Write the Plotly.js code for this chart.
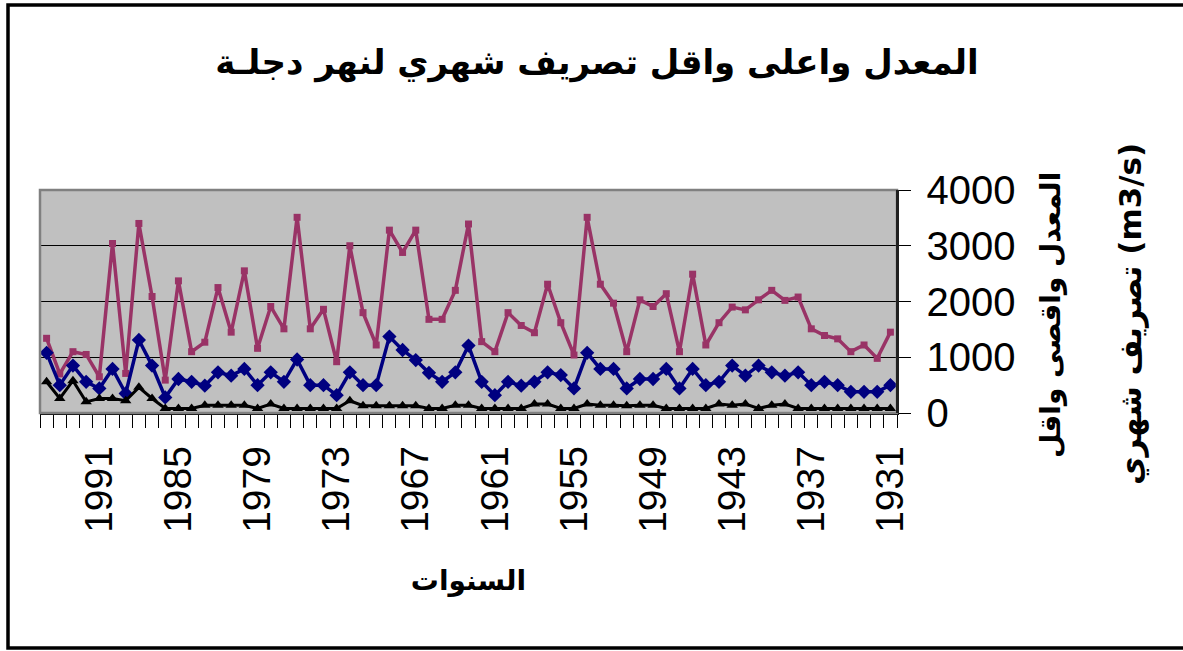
<!DOCTYPE html>
<html>
<head>
<meta charset="utf-8">
<script src="https://cdn.plot.ly/plotly-3.0.1.min.js"></script>
<style>
html,body{margin:0;padding:0;background:#fff;}
#chart{width:1183px;height:651px;}
</style>
</head>
<body>
<div id="chart"></div>
<script>
// Years (category order as in the source chart: newest on the left)
const years = [1995,1994,1993,1992,1991,1990,1989,1988,1987,1986,1985,1984,1983,1982,1981,1980,1979,1978,1977,1976,1975,1974,1973,1972,1971,1970,1969,1968,1967,1966,1965,1964,1963,1962,1961,1960,1959,1958,1957,1956,1955,1954,1953,1952,1951,1950,1949,1948,1947,1946,1945,1944,1943,1942,1941,1940,1939,1938,1937,1936,1935,1934,1933,1932,1931];

// Maximum monthly discharge (m3/s)
const maxFlow = [1340,700,1100,1050,650,3040,710,3400,2090,590,2370,1100,1270,2250,1450,2550,1160,1910,1510,3510,1510,1860,920,3000,1800,1220,3280,2880,3280,1680,1680,2200,3390,1280,1100,1800,1570,1440,2310,1620,1040,3510,2310,1970,1100,2030,1910,2140,1100,2490,1220,1620,1900,1850,2030,2200,2020,2080,1510,1390,1330,1100,1220,980,1450];

// Mean monthly discharge (m3/s)
const meanFlow = [1080,500,850,560,440,790,350,1310,850,280,610,560,490,730,670,790,500,730,560,960,500,500,320,730,500,500,1370,1130,950,720,560,730,1210,560,320,560,490,560,730,680,440,1080,790,790,440,610,610,790,440,790,500,560,850,670,850,730,670,730,500,560,500,380,380,380,500];

// Minimum monthly discharge (m3/s)
const minFlow = [560,260,580,200,260,260,220,460,260,80,80,80,140,140,140,140,80,160,80,80,80,80,80,220,130,130,130,130,130,80,80,140,140,80,80,80,80,160,160,80,80,160,140,140,130,140,140,80,80,80,80,160,140,160,80,140,160,80,80,80,80,80,80,80,80];

// Labelled ticks on the year axis
const tickYears = [1991,1985,1979,1973,1967,1961,1955,1949,1943,1937,1931];

const titleText = 'المعدل واعلى واقل تصريف شهري لنهر دجلـة';
const xTitleText = 'السنوات';
const yTitleLine1 = 'المعدل واقصى واقل';
const yTitleLine2 = 'تصريف شهري (m3/s)';

const traces = [
  {x: years, y: maxFlow, type: 'scatter', mode: 'lines+markers', name: 'max',
   line: {color: '#993366', width: 3.5}, marker: {symbol: 'square', size: 7, color: '#993366'}},
  {x: years, y: meanFlow, type: 'scatter', mode: 'lines+markers', name: 'mean',
   line: {color: '#000080', width: 3.5}, marker: {symbol: 'diamond', size: 11, color: '#000080'}},
  {x: years, y: minFlow, type: 'scatter', mode: 'lines+markers', name: 'min',
   line: {color: '#000000', width: 3}, marker: {symbol: 'triangle-up', size: 10, color: '#000000'}}
];

const arab = 'DejaVu Sans, Arial, sans-serif';
const latin = 'Liberation Sans, Arial, sans-serif';

const boundaries = years.map(y => y + 0.5).concat([years[years.length - 1] - 0.5]);

const layout = {
  width: 1183, height: 651,
  margin: {l: 40, r: 286, t: 190, b: 238},
  paper_bgcolor: '#ffffff',
  plot_bgcolor: '#c0c0c0',
  showlegend: false,
  title: {text: '<b>' + titleText + '</b>', font: {family: arab, size: 34, color: '#000'},
          xref: 'paper', x: 0.65, xanchor: 'center', yref: 'container', y: 0.905, yanchor: 'middle'},
  xaxis: {
    range: [years[0] + 0.5, years[years.length - 1] - 0.5],
    tickmode: 'array', tickvals: tickYears, ticktext: tickYears.map(String),
    tickangle: -90, ticks: '', showgrid: false, zeroline: false,
    tickfont: {family: latin, size: 39, color: '#000'},
    ticklabelstandoff: 16,
    showline: true, linecolor: '#000', linewidth: 1.5,
    minor: {tickmode: 'array', tickvals: boundaries, ticks: 'outside', ticklen: 13, tickwidth: 1, tickcolor: '#000', showgrid: false},
    title: {text: '<b>' + xTitleText + '</b>', font: {family: arab, size: 28, color: '#000'}, standoff: 38}
  },
  yaxis: {
    side: 'right', range: [0, 4000], tickmode: 'linear', tick0: 0, dtick: 1000,
    showgrid: true, gridcolor: '#000', gridwidth: 1, zeroline: false,
    ticks: 'outside', ticklen: 12, tickcolor: '#000', tickwidth: 1,
    ticklabelstandoff: 8,
    showline: true, linecolor: '#000', linewidth: 1.5,
    tickfont: {family: latin, size: 40, color: '#000'}
  },
  annotations: [
    {text: '<b>' + yTitleLine1 + '</b>', textangle: -90, xref: 'paper', yref: 'paper',
     x: (1050 - 40) / 857, y: (413 - 315) / 223, xanchor: 'center', yanchor: 'middle', showarrow: false,
     font: {family: arab, size: 28, color: '#000'}},
    {text: '<b>' + yTitleLine2 + '</b>', textangle: -90, xref: 'paper', yref: 'paper',
     x: (1130 - 40) / 857, y: (413 - 314) / 223, xanchor: 'center', yanchor: 'middle', showarrow: false,
     font: {family: arab, size: 31, color: '#000'}}
  ],
  shapes: [
    {type: 'rect', xref: 'paper', yref: 'paper', x0: 0, x1: 1, y0: 0, y1: 1,
     line: {color: '#808080', width: 2.5}, fillcolor: 'rgba(0,0,0,0)', layer: 'above'},
    {type: 'line', xref: 'paper', yref: 'paper', x0: 1, x1: 1, y0: 0, y1: 1,
     line: {color: '#000', width: 1.5}, layer: 'above'},
    {type: 'rect', xref: 'paper', yref: 'paper', x0: -32 / 857, x1: 1.42, y0: (413 - 648) / 223, y1: (413 - 5) / 223,
     line: {color: '#000', width: 3.5}, fillcolor: 'rgba(0,0,0,0)'}
  ]
};

Plotly.newPlot('chart', traces, layout, {displayModeBar: false, staticPlot: true});
</script>
</body>
</html>
